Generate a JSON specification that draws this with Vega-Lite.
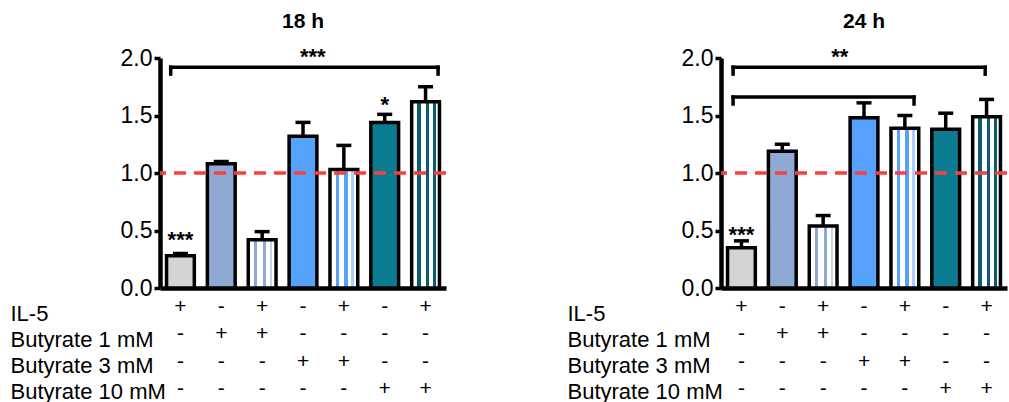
{
  "$schema": "https://vega.github.io/schema/vega-lite/v6.json",
  "padding": {"left": 10, "top": 10, "right": 2, "bottom": 2},
  "config": {"font": "Liberation Sans", "view": {"stroke": null}},
  "bounds": "flush",
  "spacing": 275,
  "datasets": {
    "bars": [
      {"panel": "18 h", "grp": 1, "cond": "+ - - -", "mean": 0.28, "upper": 0.30},
      {"panel": "18 h", "grp": 2, "cond": "- + - -", "mean": 1.08, "upper": 1.10},
      {"panel": "18 h", "grp": 3, "cond": "+ + - -", "mean": 0.42, "upper": 0.49},
      {"panel": "18 h", "grp": 4, "cond": "- - + -", "mean": 1.32, "upper": 1.44},
      {"panel": "18 h", "grp": 5, "cond": "+ - + -", "mean": 1.03, "upper": 1.24},
      {"panel": "18 h", "grp": 6, "cond": "- - - +", "mean": 1.44, "upper": 1.51},
      {"panel": "18 h", "grp": 7, "cond": "+ - - +", "mean": 1.62, "upper": 1.75},
      {"panel": "24 h", "grp": 1, "cond": "+ - - -", "mean": 0.35, "upper": 0.41},
      {"panel": "24 h", "grp": 2, "cond": "- + - -", "mean": 1.19, "upper": 1.25},
      {"panel": "24 h", "grp": 3, "cond": "+ + - -", "mean": 0.54, "upper": 0.63},
      {"panel": "24 h", "grp": 4, "cond": "- - + -", "mean": 1.48, "upper": 1.61},
      {"panel": "24 h", "grp": 5, "cond": "+ - + -", "mean": 1.39, "upper": 1.50},
      {"panel": "24 h", "grp": 6, "cond": "- - - +", "mean": 1.38, "upper": 1.52},
      {"panel": "24 h", "grp": 7, "cond": "+ - - +", "mean": 1.49, "upper": 1.64}
    ],
    "brackets": [
      {"panel": "18 h", "id": "a", "from": "+ - - -", "to": "+ - - +", "y": 1.92, "ylo": 1.86},
      {"panel": "24 h", "id": "b", "from": "+ - - -", "to": "+ - - +", "y": 1.92, "ylo": 1.86},
      {"panel": "24 h", "id": "c", "from": "+ - - -", "to": "+ - + -", "y": 1.66, "ylo": 1.60}
    ],
    "stars": [
      {"panel": "18 h", "kind": "bar", "x": "+ - - -", "y": 0.36, "label": "***"},
      {"panel": "18 h", "kind": "bar", "x": "- - - +", "y": 1.53, "label": "*"},
      {"panel": "18 h", "kind": "top", "x": "- - + -", "y": 1.95, "label": "***"},
      {"panel": "24 h", "kind": "bar", "x": "+ - - -", "y": 0.40, "label": "***"},
      {"panel": "24 h", "kind": "top", "x": "+ + - -", "y": 1.95, "label": "**"}
    ],
    "reference": [{"level": 1}]
  },
  "hconcat": [
    {
      "width": 286, "height": 230,
      "title": {"text": "18 h", "fontSize": 21, "fontWeight": "bold", "offset": 14, "color": "black"},
      "layer": [
        {
          "data": {"name": "bars"},
          "transform": [{"filter": "datum.panel == '18 h'"}],
          "mark": {"type": "rule", "strokeWidth": 3.5, "color": "black"},
          "encoding": {
            "x": {"field": "cond", "type": "nominal", "sort": null,
              "scale": {"domain": ["+ - - -", "- + - -", "+ + - -", "- - + -", "+ - + -", "- - - +", "+ - - +"], "paddingInner": 0.32, "paddingOuter": 0.16},
              "axis": {"title": ["IL-5", "Butyrate 1 mM", "Butyrate 3 mM", "Butyrate 10 mM"], "titleAlign": "left", "titleAnchor": "start", "titleX": -150, "titleY": 32, "titleBaseline": "alphabetic", "titleFontSize": 22, "titleFontWeight": "normal", "titleLineHeight": 26, "titleColor": "black",
                "labelExpr": "split(datum.value, ' ')", "labelFontSize": 21, "labelLineHeight": 27.5, "labelAngle": 0, "labelPadding": 7, "labelColor": "black", "ticks": false, "domainWidth": 4.5, "domainColor": "black"}},
            "y": {"field": "mean", "type": "quantitative", "scale": {"domain": [0, 2], "nice": false},
              "axis": {"title": null, "values": [0, 0.5, 1, 1.5, 2], "format": ".1f", "labelFontSize": 23, "labelColor": "black", "labelPadding": 2, "tickSize": 6, "tickWidth": 3.5, "tickColor": "black", "domainWidth": 4.5, "domainColor": "black", "grid": false}},
            "y2": {"field": "upper"}
          }
        },
        {
          "data": {"name": "bars"},
          "transform": [{"filter": "datum.panel == '18 h'"}],
          "mark": {"type": "tick", "thickness": 3.5, "size": 15, "color": "black", "opacity": 1},
          "encoding": {
            "x": {"field": "cond", "type": "nominal", "sort": null},
            "y": {"field": "upper", "type": "quantitative"}
          }
        },
        {
          "data": {"name": "bars"},
          "transform": [{"filter": "datum.panel == '18 h'"}],
          "mark": {"type": "bar", "stroke": "black", "strokeWidth": 3.5},
          "encoding": {
            "x": {"field": "cond", "type": "nominal", "sort": null},
            "y": {"field": "mean", "type": "quantitative"},
            "fill": {
              "condition": [
                {"test": "datum.grp == 1", "value": "#d4d4d4"},
                {"test": "datum.grp == 2", "value": "#8eaad4"},
                {"test": "datum.grp == 3", "value": {"gradient": "linear", "x1": 0, "x2": 1, "y1": 0, "y2": 0, "stops": [{"offset": 0, "color": "#ffffff"}, {"offset": 0.2, "color": "#ffffff"}, {"offset": 0.2, "color": "#8eaad4"}, {"offset": 0.32, "color": "#8eaad4"}, {"offset": 0.32, "color": "#ffffff"}, {"offset": 0.52, "color": "#ffffff"}, {"offset": 0.52, "color": "#8eaad4"}, {"offset": 0.64, "color": "#8eaad4"}, {"offset": 0.64, "color": "#ffffff"}, {"offset": 0.77, "color": "#ffffff"}, {"offset": 0.77, "color": "#c6d4ea"}, {"offset": 0.87, "color": "#c6d4ea"}, {"offset": 0.87, "color": "#ffffff"}, {"offset": 1, "color": "#ffffff"}]}},
                {"test": "datum.grp == 4", "value": "#55a2fc"},
                {"test": "datum.grp == 5", "value": {"gradient": "linear", "x1": 0, "x2": 1, "y1": 0, "y2": 0, "stops": [{"offset": 0, "color": "#ffffff"}, {"offset": 0.2, "color": "#ffffff"}, {"offset": 0.2, "color": "#55a2fc"}, {"offset": 0.32, "color": "#55a2fc"}, {"offset": 0.32, "color": "#ffffff"}, {"offset": 0.52, "color": "#ffffff"}, {"offset": 0.52, "color": "#55a2fc"}, {"offset": 0.64, "color": "#55a2fc"}, {"offset": 0.64, "color": "#ffffff"}, {"offset": 0.77, "color": "#ffffff"}, {"offset": 0.77, "color": "#aad0fd"}, {"offset": 0.87, "color": "#aad0fd"}, {"offset": 0.87, "color": "#ffffff"}, {"offset": 1, "color": "#ffffff"}]}},
                {"test": "datum.grp == 6", "value": "#0b7b91"}
              ],
              "value": {"gradient": "linear", "x1": 0, "x2": 1, "y1": 0, "y2": 0, "stops": [{"offset": 0, "color": "#ffffff"}, {"offset": 0.2, "color": "#ffffff"}, {"offset": 0.2, "color": "#0d5c6e"}, {"offset": 0.32, "color": "#0d5c6e"}, {"offset": 0.32, "color": "#ffffff"}, {"offset": 0.52, "color": "#ffffff"}, {"offset": 0.52, "color": "#0d5c6e"}, {"offset": 0.64, "color": "#0d5c6e"}, {"offset": 0.64, "color": "#ffffff"}, {"offset": 0.77, "color": "#ffffff"}, {"offset": 0.77, "color": "#0d5c6e"}, {"offset": 0.87, "color": "#0d5c6e"}, {"offset": 0.87, "color": "#ffffff"}, {"offset": 1, "color": "#ffffff"}]}
            }
          }
        },
        {
          "data": {"name": "reference"},
          "mark": {"type": "rule", "color": "#f84040", "strokeWidth": 3.5, "strokeDash": [12, 8]},
          "encoding": {"y": {"field": "level", "type": "quantitative"}}
        },
        {
          "data": {"name": "brackets"},
          "transform": [{"filter": "datum.panel == '18 h'"}],
          "mark": {"type": "rule", "strokeWidth": 3.5, "color": "black", "strokeCap": "square"},
          "encoding": {
            "x": {"field": "from", "type": "nominal", "bandPosition": 0.15},
            "x2": {"field": "to", "bandPosition": 0.95},
            "y": {"field": "y", "type": "quantitative"}
          }
        },
        {
          "data": {"name": "brackets"},
          "transform": [{"filter": "datum.panel == '18 h'"}],
          "mark": {"type": "rule", "strokeWidth": 3.5, "color": "black", "strokeCap": "square"},
          "encoding": {
            "x": {"field": "from", "type": "nominal", "bandPosition": 0.15},
            "y": {"field": "y", "type": "quantitative"},
            "y2": {"field": "ylo"}
          }
        },
        {
          "data": {"name": "brackets"},
          "transform": [{"filter": "datum.panel == '18 h'"}],
          "mark": {"type": "rule", "strokeWidth": 3.5, "color": "black", "strokeCap": "square"},
          "encoding": {
            "x": {"field": "to", "type": "nominal", "bandPosition": 0.95},
            "y": {"field": "y", "type": "quantitative"},
            "y2": {"field": "ylo"}
          }
        },
        {
          "data": {"name": "stars"},
          "transform": [{"filter": "datum.panel == '18 h' && datum.kind == 'bar'"}],
          "mark": {"type": "text", "fontSize": 22, "fontWeight": "bold", "baseline": "alphabetic", "color": "black"},
          "encoding": {
            "x": {"field": "x", "type": "nominal"},
            "y": {"field": "y", "type": "quantitative"},
            "text": {"field": "label"}
          }
        },
        {
          "data": {"name": "stars"},
          "transform": [{"filter": "datum.panel == '18 h' && datum.kind == 'top'"}],
          "mark": {"type": "text", "fontSize": 22, "fontWeight": "bold", "baseline": "alphabetic", "color": "black"},
          "encoding": {
            "x": {"field": "x", "type": "nominal", "bandPosition": 0.85},
            "y": {"field": "y", "type": "quantitative"},
            "text": {"field": "label"}
          }
        }
      ]
    },
    {
      "width": 286, "height": 230,
      "title": {"text": "24 h", "fontSize": 21, "fontWeight": "bold", "offset": 14, "color": "black"},
      "layer": [
        {
          "data": {"name": "bars"},
          "transform": [{"filter": "datum.panel == '24 h'"}],
          "mark": {"type": "rule", "strokeWidth": 3.5, "color": "black"},
          "encoding": {
            "x": {"field": "cond", "type": "nominal", "sort": null,
              "scale": {"domain": ["+ - - -", "- + - -", "+ + - -", "- - + -", "+ - + -", "- - - +", "+ - - +"], "paddingInner": 0.32, "paddingOuter": 0.16},
              "axis": {"title": ["IL-5", "Butyrate 1 mM", "Butyrate 3 mM", "Butyrate 10 mM"], "titleAlign": "left", "titleAnchor": "start", "titleX": -154, "titleY": 32, "titleBaseline": "alphabetic", "titleFontSize": 22, "titleFontWeight": "normal", "titleLineHeight": 26, "titleColor": "black",
                "labelExpr": "split(datum.value, ' ')", "labelFontSize": 21, "labelLineHeight": 27.5, "labelAngle": 0, "labelPadding": 7, "labelColor": "black", "ticks": false, "domainWidth": 4.5, "domainColor": "black"}},
            "y": {"field": "mean", "type": "quantitative", "scale": {"domain": [0, 2], "nice": false},
              "axis": {"title": null, "values": [0, 0.5, 1, 1.5, 2], "format": ".1f", "labelFontSize": 23, "labelColor": "black", "labelPadding": 2, "tickSize": 6, "tickWidth": 3.5, "tickColor": "black", "domainWidth": 4.5, "domainColor": "black", "grid": false}},
            "y2": {"field": "upper"}
          }
        },
        {
          "data": {"name": "bars"},
          "transform": [{"filter": "datum.panel == '24 h'"}],
          "mark": {"type": "tick", "thickness": 3.5, "size": 15, "color": "black", "opacity": 1},
          "encoding": {
            "x": {"field": "cond", "type": "nominal", "sort": null},
            "y": {"field": "upper", "type": "quantitative"}
          }
        },
        {
          "data": {"name": "bars"},
          "transform": [{"filter": "datum.panel == '24 h'"}],
          "mark": {"type": "bar", "stroke": "black", "strokeWidth": 3.5},
          "encoding": {
            "x": {"field": "cond", "type": "nominal", "sort": null},
            "y": {"field": "mean", "type": "quantitative"},
            "fill": {
              "condition": [
                {"test": "datum.grp == 1", "value": "#d4d4d4"},
                {"test": "datum.grp == 2", "value": "#8eaad4"},
                {"test": "datum.grp == 3", "value": {"gradient": "linear", "x1": 0, "x2": 1, "y1": 0, "y2": 0, "stops": [{"offset": 0, "color": "#ffffff"}, {"offset": 0.2, "color": "#ffffff"}, {"offset": 0.2, "color": "#8eaad4"}, {"offset": 0.32, "color": "#8eaad4"}, {"offset": 0.32, "color": "#ffffff"}, {"offset": 0.52, "color": "#ffffff"}, {"offset": 0.52, "color": "#8eaad4"}, {"offset": 0.64, "color": "#8eaad4"}, {"offset": 0.64, "color": "#ffffff"}, {"offset": 0.77, "color": "#ffffff"}, {"offset": 0.77, "color": "#c6d4ea"}, {"offset": 0.87, "color": "#c6d4ea"}, {"offset": 0.87, "color": "#ffffff"}, {"offset": 1, "color": "#ffffff"}]}},
                {"test": "datum.grp == 4", "value": "#55a2fc"},
                {"test": "datum.grp == 5", "value": {"gradient": "linear", "x1": 0, "x2": 1, "y1": 0, "y2": 0, "stops": [{"offset": 0, "color": "#ffffff"}, {"offset": 0.2, "color": "#ffffff"}, {"offset": 0.2, "color": "#55a2fc"}, {"offset": 0.32, "color": "#55a2fc"}, {"offset": 0.32, "color": "#ffffff"}, {"offset": 0.52, "color": "#ffffff"}, {"offset": 0.52, "color": "#55a2fc"}, {"offset": 0.64, "color": "#55a2fc"}, {"offset": 0.64, "color": "#ffffff"}, {"offset": 0.77, "color": "#ffffff"}, {"offset": 0.77, "color": "#aad0fd"}, {"offset": 0.87, "color": "#aad0fd"}, {"offset": 0.87, "color": "#ffffff"}, {"offset": 1, "color": "#ffffff"}]}},
                {"test": "datum.grp == 6", "value": "#0b7b91"}
              ],
              "value": {"gradient": "linear", "x1": 0, "x2": 1, "y1": 0, "y2": 0, "stops": [{"offset": 0, "color": "#ffffff"}, {"offset": 0.2, "color": "#ffffff"}, {"offset": 0.2, "color": "#0d5c6e"}, {"offset": 0.32, "color": "#0d5c6e"}, {"offset": 0.32, "color": "#ffffff"}, {"offset": 0.52, "color": "#ffffff"}, {"offset": 0.52, "color": "#0d5c6e"}, {"offset": 0.64, "color": "#0d5c6e"}, {"offset": 0.64, "color": "#ffffff"}, {"offset": 0.77, "color": "#ffffff"}, {"offset": 0.77, "color": "#0d5c6e"}, {"offset": 0.87, "color": "#0d5c6e"}, {"offset": 0.87, "color": "#ffffff"}, {"offset": 1, "color": "#ffffff"}]}
            }
          }
        },
        {
          "data": {"name": "reference"},
          "mark": {"type": "rule", "color": "#f84040", "strokeWidth": 3.5, "strokeDash": [12, 8]},
          "encoding": {"y": {"field": "level", "type": "quantitative"}}
        },
        {
          "data": {"name": "brackets"},
          "transform": [{"filter": "datum.panel == '24 h'"}],
          "mark": {"type": "rule", "strokeWidth": 3.5, "color": "black", "strokeCap": "square"},
          "encoding": {
            "x": {"field": "from", "type": "nominal", "bandPosition": 0.2},
            "y": {"field": "y", "type": "quantitative"},
            "y2": {"field": "ylo"}
          }
        },
        {
          "data": {"name": "brackets"},
          "transform": [{"filter": "datum.id == 'b'"}],
          "mark": {"type": "rule", "strokeWidth": 3.5, "color": "black", "strokeCap": "square"},
          "encoding": {
            "x": {"field": "from", "type": "nominal", "bandPosition": 0.2},
            "x2": {"field": "to", "bandPosition": 0.45},
            "y": {"field": "y", "type": "quantitative"}
          }
        },
        {
          "data": {"name": "brackets"},
          "transform": [{"filter": "datum.id == 'b'"}],
          "mark": {"type": "rule", "strokeWidth": 3.5, "color": "black", "strokeCap": "square"},
          "encoding": {
            "x": {"field": "to", "type": "nominal", "bandPosition": 0.45},
            "y": {"field": "y", "type": "quantitative"},
            "y2": {"field": "ylo"}
          }
        },
        {
          "data": {"name": "brackets"},
          "transform": [{"filter": "datum.id == 'c'"}],
          "mark": {"type": "rule", "strokeWidth": 3.5, "color": "black", "strokeCap": "square"},
          "encoding": {
            "x": {"field": "from", "type": "nominal", "bandPosition": 0.2},
            "x2": {"field": "to", "bandPosition": 0.83},
            "y": {"field": "y", "type": "quantitative"}
          }
        },
        {
          "data": {"name": "brackets"},
          "transform": [{"filter": "datum.id == 'c'"}],
          "mark": {"type": "rule", "strokeWidth": 3.5, "color": "black", "strokeCap": "square"},
          "encoding": {
            "x": {"field": "to", "type": "nominal", "bandPosition": 0.83},
            "y": {"field": "y", "type": "quantitative"},
            "y2": {"field": "ylo"}
          }
        },
        {
          "data": {"name": "stars"},
          "transform": [{"filter": "datum.panel == '24 h' && datum.kind == 'bar'"}],
          "mark": {"type": "text", "fontSize": 22, "fontWeight": "bold", "baseline": "alphabetic", "color": "black"},
          "encoding": {
            "x": {"field": "x", "type": "nominal"},
            "y": {"field": "y", "type": "quantitative"},
            "text": {"field": "label"}
          }
        },
        {
          "data": {"name": "stars"},
          "transform": [{"filter": "datum.panel == '24 h' && datum.kind == 'top'"}],
          "mark": {"type": "text", "fontSize": 22, "fontWeight": "bold", "baseline": "alphabetic", "color": "black"},
          "encoding": {
            "x": {"field": "x", "type": "nominal", "bandPosition": 1.1},
            "y": {"field": "y", "type": "quantitative"},
            "text": {"field": "label"}
          }
        }
      ]
    }
  ]
}
